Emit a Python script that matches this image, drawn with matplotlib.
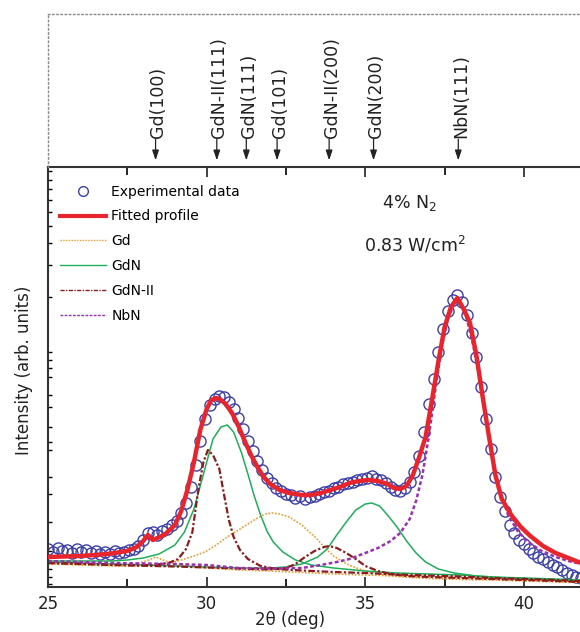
import matplotlib
matplotlib.use("Agg")
import matplotlib.pyplot as plt
from matplotlib.lines import Line2D
import numpy as np

plt.rcParams['font.family'] = ['DejaVu Sans']

# experimental XRD pattern (2theta in deg, intensity arb. units)
exp_x = [25.00, 25.15, 25.30, 25.45, 25.60, 25.75, 25.90, 26.05, 26.20, 26.35,
         26.50, 26.65, 26.80, 26.95, 27.10, 27.25, 27.40, 27.55, 27.70, 27.85,
         28.00, 28.15, 28.30, 28.45, 28.60, 28.75, 28.90, 29.05, 29.20, 29.35,
         29.50, 29.65, 29.80, 29.95, 30.10, 30.25, 30.40, 30.55, 30.70, 30.85,
         31.00, 31.15, 31.30, 31.45, 31.60, 31.75, 31.90, 32.05, 32.20, 32.35,
         32.50, 32.65, 32.80, 32.95, 33.10, 33.25, 33.40, 33.55, 33.70, 33.85,
         34.00, 34.15, 34.30, 34.45, 34.60, 34.75, 34.90, 35.05, 35.20, 35.35,
         35.50, 35.65, 35.80, 35.95, 36.10, 36.25, 36.40, 36.55, 36.70, 36.85,
         37.00, 37.15, 37.30, 37.45, 37.60, 37.75, 37.90, 38.05, 38.20, 38.35,
         38.50, 38.65, 38.80, 38.95, 39.10, 39.25, 39.40, 39.55, 39.70, 39.85,
         40.00, 40.15, 40.30, 40.45, 40.60, 40.75, 40.90, 41.05, 41.20, 41.35,
         41.50, 41.65, 41.80]
exp_y = [38, 35, 39, 36, 37, 34, 38, 35, 37, 34,
         36, 33, 35, 33, 36, 34, 35, 37, 38, 41,
         47, 54, 55, 52, 56, 58, 62, 66, 74, 84,
         100, 122, 146, 168, 182, 188, 191, 190, 185, 178,
         169, 158, 146, 136, 126, 117, 109, 104, 99, 96,
         93, 92, 89, 91, 88, 90, 91, 93, 95, 96,
         99, 100, 103, 104, 105, 107, 108, 109, 111, 108,
         107, 104, 100, 97, 96, 99, 105, 115, 131, 155,
         183, 208, 235, 258, 276, 287, 292, 285, 272, 254,
         230, 200, 168, 138, 110, 90, 76, 62, 54, 47,
         43, 38, 34, 30, 28, 25, 22, 20, 17, 14,
         12, 10, 9]

# fitted profile
fit_x = [25.0, 25.5, 26.0, 26.5, 27.0, 27.5, 27.8, 28.0, 28.15, 28.3, 28.45, 28.7,
         29.0, 29.2, 29.4, 29.6, 29.8, 30.0, 30.15, 30.3, 30.45, 30.6, 30.8, 31.0,
         31.2, 31.4, 31.6, 31.8, 32.0, 32.3, 32.6, 33.0, 33.3, 33.6, 33.9, 34.2,
         34.5, 34.8, 35.1, 35.4, 35.7, 35.9, 36.1, 36.3, 36.5, 36.7, 36.9, 37.1,
         37.3, 37.5, 37.7, 37.9, 38.1, 38.3, 38.5, 38.7, 38.9, 39.1, 39.3, 39.6,
         39.9, 40.2, 40.6, 41.0, 41.4, 41.8]
fit_y = [30, 30.5, 31, 32, 33.5, 36, 40, 46, 52, 47, 49, 53,
         62, 76, 98, 125, 157, 178, 187, 189, 187, 183, 174, 161,
         146, 132, 120, 110, 103, 97, 94, 92, 92, 94, 97, 100,
         104, 106, 107, 106, 103, 99, 98, 101, 112, 130, 150, 187,
         225, 260, 280, 289, 278, 264, 232, 190, 150, 112, 88, 72,
         60, 51, 41, 34, 29, 24]

# Gd components
gd1_x = [25.0, 26.0, 27.0, 27.7, 28.1, 28.39, 28.7, 29.1, 30.0, 31.0, 32.0, 33.0,
         34.0, 35.0, 36.0, 37.0, 38.0, 39.0, 40.0, 41.0, 41.8]
gd1_y = [24, 23, 22, 22.5, 26, 30, 26, 22, 19, 17, 16, 14.5,
         13, 12, 11, 10, 9, 8, 7, 6, 5.5]
gd2_x = [25.0, 26.0, 27.0, 28.0, 28.6, 29.1, 29.5, 29.95, 30.3, 30.6, 31.0, 31.3,
         31.6, 31.85, 32.07, 32.3, 32.6, 32.85, 33.0, 33.2, 33.45, 33.7, 34.0, 34.3,
         34.55, 35.0, 35.6, 36.2, 37.0, 38.0, 39.0, 40.0, 41.0, 41.8]
gd2_y = [23, 22, 21, 21, 23, 26, 30, 35, 42, 49, 57, 63,
         69, 73, 74, 73, 70, 65, 62, 56, 49, 40, 31, 25,
         21, 16, 12, 10, 8.5, 7.5, 7, 6, 5, 4.5]

# GdN components
gdn1_x = [25.0, 26.0, 27.0, 27.5, 28.0, 28.5, 29.0, 29.3, 29.6, 29.9, 30.2, 30.45,
          30.65, 30.85, 31.1, 31.3, 31.5, 31.7, 31.9, 32.1, 32.4, 32.8, 33.3, 34.0,
          35.0, 36.0, 37.0, 38.0, 39.0, 40.0, 41.0, 41.8]
gdn1_y = [26, 26, 26, 27, 29, 33, 42, 55, 78, 113, 148, 160,
          162, 155, 134, 113, 91, 72, 56, 45, 35, 27, 22, 19,
          16, 14, 13, 12, 10, 9, 8, 7]
gdn2_x = [25.0, 27.0, 29.0, 31.0, 32.0, 32.5, 33.0, 33.5, 33.8, 34.1, 34.4, 34.7,
          35.0, 35.2, 35.45, 35.7, 36.0, 36.3, 36.6, 36.9, 37.3, 37.8, 38.5, 39.5,
          40.5, 41.8]
gdn2_y = [25, 23, 21, 19, 19, 20, 23, 30, 38, 52, 65, 77,
          83, 84, 81, 72, 60, 46, 34, 25, 18, 14, 11, 9,
          8, 6]

# GdN-II components
gdn2a_x = [25.0, 26.5, 27.5, 28.3, 28.8, 29.1, 29.35, 29.55, 29.75, 29.9, 30.04, 30.2,
           30.4, 30.55, 30.7, 30.85, 31.05, 31.3, 31.7, 32.2, 33.0, 34.0, 35.0, 36.0,
           37.0, 38.0, 39.0, 40.0, 41.0, 41.8]
gdn2a_y = [24, 23, 22, 22, 24, 28, 38, 55, 100, 125, 137, 132,
           118, 92, 67, 50, 37, 28, 21, 18, 16.5, 15, 14, 12.5,
           11.5, 10.5, 9, 8, 7, 6]
gdn2b_x = [25.0, 27.0, 29.0, 31.0, 32.0, 32.5, 32.8, 33.1, 33.4, 33.7, 33.87, 34.1,
           34.4, 34.7, 35.0, 35.4, 35.8, 36.3, 37.0, 38.0, 39.0, 40.0, 41.0, 41.8]
gdn2b_y = [24, 22, 20.5, 18.5, 17.5, 19, 23, 30, 36, 40, 41, 39,
           34, 28, 21, 16, 13, 11, 10, 9, 8, 7, 6, 5]

# NbN component
nbn_x = [25.0, 26.0, 27.0, 28.0, 29.0, 30.0, 31.0, 32.0, 33.0, 33.6, 34.1, 34.5,
         35.0, 35.4, 35.8, 36.1, 36.4, 36.6, 36.8, 37.0, 37.2, 37.4, 37.6, 37.8,
         37.9, 38.0, 38.2, 38.4, 38.6, 38.8, 39.0, 39.2, 39.5, 39.8, 40.1, 40.5,
         41.0, 41.4, 41.8]
nbn_y = [26, 25, 24, 23.5, 23, 22, 19, 18.5, 19, 22, 25, 28,
         34, 39, 46, 54, 68, 86, 112, 150, 196, 238, 268, 283,
         285, 283, 268, 242, 207, 167, 130, 100, 72, 56, 46, 37,
         30, 26, 23]

peak_pos = [28.39, 30.32, 31.25, 32.22, 33.86, 35.26, 37.93]
peak_lbl = ['Gd(100)', 'GdN-II(111)', 'GdN(111)', 'Gd(101)',
            'GdN-II(200)', 'GdN(200)', 'NbN(111)']

yticks_left = [3, 10, 18, 36, 65, 93, 110, 137, 145, 160, 180, 192, 210, 219,
               227, 235, 290, 322, 344, 361, 375, 387, 398, 407, 416]

c_exp = '#3c3fa8'
c_fit = '#e8252c'
c_gd = '#f29a2e'
c_gdn = '#1fae5a'
c_gdn2 = '#8a1c1c'
c_nbn = '#9a2fb0'
c_txt = '#222222'

W, H = 580, 632
fig = plt.figure(figsize=(W / 100, H / 100), dpi=100)
xmin = 25.0
xmax = 25.0 + 532 / 31.73

ax = fig.add_axes([48 / W, 45 / H, 532 / W, 420 / H])
ax_top = fig.add_axes([48 / W, 465 / H, 532 / W, 153 / H])

ax.plot(exp_x, exp_y, 'o', mfc='none', mec=c_exp, mew=1.0, ms=8, zorder=1)
ax.plot(gd1_x, gd1_y, color=c_gd, ls=(0, (1, 1)), lw=1.2, zorder=2)
ax.plot(gd2_x, gd2_y, color=c_gd, ls=(0, (1, 1)), lw=1.2, zorder=2)
ax.plot(gdn1_x, gdn1_y, color=c_gdn, lw=1.1, zorder=2)
ax.plot(gdn2_x, gdn2_y, color=c_gdn, lw=1.1, zorder=2)
ax.plot(gdn2a_x, gdn2a_y, color=c_gdn2, ls=(0, (3, 1, 1, 1)), lw=1.6, zorder=2)
ax.plot(gdn2b_x, gdn2b_y, color=c_gdn2, ls=(0, (3, 1, 1, 1)), lw=1.6, zorder=2)
ax.plot(nbn_x, nbn_y, color=c_nbn, ls=(0, (1.5, 1)), lw=1.8, zorder=2)
ax.plot(fit_x, fit_y, color=c_fit, lw=3.2, zorder=3)

ax.set_xlim(xmin, xmax)
ax.set_ylim(0, 420)
ax.set_xticks([25, 30, 35, 40])
ax.set_xticks([27.5, 32.5, 37.5], minor=True)
ax.set_yticks(yticks_left)
ax.set_yticklabels([])
ax.tick_params(axis='x', which='major', direction='in', length=7, width=1.2,
               labelsize=12, pad=6, colors=c_txt)
ax.tick_params(axis='x', which='minor', direction='in', length=6, width=1.2)
ax.tick_params(axis='y', direction='in', length=3, width=1.0)
ax.tick_params(axis='x', top=True, which='both')
for s in ['left', 'bottom', 'top']:
    ax.spines[s].set_linewidth(1.5)
    ax.spines[s].set_color('#333333')
ax.spines['right'].set_visible(False)
ax.set_xlabel('2θ (deg)', fontsize=12, color=c_txt)
ax.xaxis.set_label_coords(0.455, -0.058)
ax.set_ylabel('Intensity (arb. units)', fontsize=12, color=c_txt)
ax.yaxis.set_label_coords(-0.028, 0.517)

handles = [
    Line2D([], [], ls='none', marker='o', mfc='none', mec=c_exp, ms=7),
    Line2D([], [], color=c_fit, lw=3),
    Line2D([], [], color=c_gd, ls=(0, (1, 1)), lw=1),
    Line2D([], [], color=c_gdn, lw=1),
    Line2D([], [], color=c_gdn2, ls=(0, (3, 1, 1, 1)), lw=1),
    Line2D([], [], color=c_nbn, ls=(0, (2, 1)), lw=1),
]
labels = ['Experimental data', 'Fitted profile', 'Gd', 'GdN', 'GdN-II', 'NbN']
ax.legend(handles, labels, loc='upper left', bbox_to_anchor=(0.0226, 0.958),
          frameon=False, fontsize=10, handlelength=3.3, handletextpad=0.4,
          labelspacing=0.78, borderaxespad=0, borderpad=0)

ax.text(0.68, 0.914, '4% N$_2$', transform=ax.transAxes, fontsize=12.5,
        ha='center', va='center', color=c_txt)
ax.text(0.69, 0.814, '0.83 W/cm$^2$', transform=ax.transAxes, fontsize=12.5,
        ha='center', va='center', color=c_txt)

# top panel with reflection markers
ax_top.set_xlim(xmin, xmax)
ax_top.set_ylim(0, 1)
ax_top.set_xticks([])
ax_top.set_yticks([])
ax_top.patch.set_alpha(0)
for s in ['top', 'left']:
    ax_top.spines[s].set_linestyle((0, (1, 2)))
    ax_top.spines[s].set_color('#888888')
    ax_top.spines[s].set_linewidth(1.0)
ax_top.spines['bottom'].set_visible(False)
ax_top.spines['right'].set_visible(False)
for xp, lb in zip(peak_pos, peak_lbl):
    ax_top.annotate('', xy=(xp, 0.025), xytext=(xp, 0.2),
                    arrowprops=dict(arrowstyle='-|>,head_length=0.6,head_width=0.2',
                                    color=c_txt, lw=0.9))
    ax_top.text(xp + 0.08, 0.19, lb, rotation=90, ha='center', va='bottom',
                fontsize=12.5, color=c_txt)

fig.savefig('out.png', dpi=100)
